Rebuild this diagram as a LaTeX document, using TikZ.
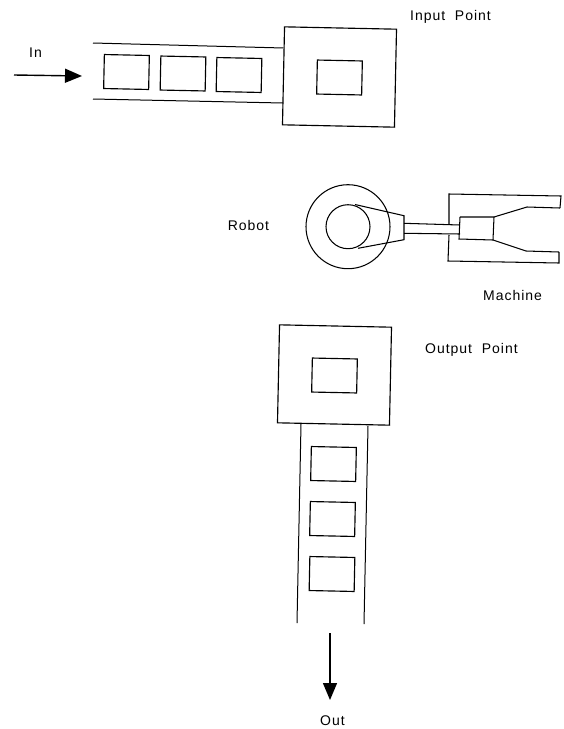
\documentclass[tikz,border=0pt]{standalone}
\usepackage{fontspec}
\setmainfont{Liberation Sans}
\newfontfamily\lblfont[LetterSpace=7]{Liberation Sans}
\usetikzlibrary{arrows.meta}
\tikzset{
  lbl/.style={inner sep=0pt, font=\lblfont\fontsize{14}{16}\selectfont},
  part/.style={draw=black, line width=1.15pt, fill=white, minimum width=45pt, minimum height=34pt, inner sep=0pt, rotate=-1.2},
  station/.style={draw=black, line width=1.15pt, minimum width=112pt, minimum height=98pt, inner sep=0pt, rotate=-1.2},
  belt/.style={line width=1pt},
  flow/.style={line width=1.4pt, -{Triangle[length=17pt, width=14pt]}},
  rob/.style={line width=1.05pt}
}
\begin{document}
\begin{tikzpicture}[x=1pt, y=-1pt]
  \useasboundingbox (0,0) rectangle (563,729);
  % input side
  \node[station] (inbox) at (339.5,77) {};
  \node[part] (inpart) at (339.5,77.5) {};
  \node[part] (ina) at (126.5,72) {};
  \node[part] (inb) at (183,73.5) {};
  \node[part] (inc) at (239,75) {};
  \coordinate (intopl) at (93,43);
  \coordinate (intopr) at (283.5,48);
  \coordinate (inbotl) at (93,99);
  \coordinate (inbotr) at (283,103);
  \draw[belt] (intopl) -- (intopr);
  \draw[belt] (inbotl) -- (inbotr);
  \coordinate (instart) at (14,75);
  \coordinate (inend) at (82,76);
  \draw[flow] (instart) -- (inend);
  \node[lbl] (inlbl) at (35.5,53) {In};
  \node[lbl, anchor=west] (inputlbl) at (410,17) {Input\ \ Point};
  % robot
  \node[draw=black, rob, circle, minimum size=84pt, inner sep=0pt] (robout) at (348,226.7) {};
  \node[draw=black, rob, circle, minimum size=44pt, inner sep=0pt] (robin) at (348,226.7) {};
  \coordinate (shafttl) at (404,223.3);
  \coordinate (shaftbl) at (404,233.3);
  \coordinate (shafttr) at (460,225);
  \coordinate (shaftbr) at (460,234);
  \draw[rob] (355,204.5) -- (404,215.7) -- (404,239.7) -- (358,248.3);
  \draw[rob] (shafttl) -- (shafttr);
  \draw[rob] (shaftbl) -- (shaftbr);
  % machine
  \draw[rob] (449,224) -- (449,194) -- (561,196) -- (560,208);
  \draw[rob] (449,235) -- (448,261) -- (559,263) -- (559,252);
  \draw[rob] (460,217) -- (494,217) -- (527,207) -- (560,208);
  \draw[rob] (460,217) -- (459,239) -- (493,240) -- (526,251) -- (559,252);
  \draw[rob] (494,217) -- (493,240);
  \node[lbl] (robotlbl) at (248.5,225) {Robot};
  \node[lbl, anchor=west] (machlbl) at (483,295) {Machine};
  % output side
  \node[station] (outbox) at (334.5,375) {};
  \node[part] (outpart) at (334.5,375.5) {};
  \node[part] (outa) at (333.5,464) {};
  \node[part] (outb) at (332.5,519) {};
  \node[part] (outc) at (332,574) {};
  \coordinate (outlt) at (301,424);
  \coordinate (outrt) at (368,426);
  \coordinate (outll) at (297,623);
  \coordinate (outrl) at (364,624);
  \draw[belt] (outlt) -- (outll);
  \draw[belt] (outrt) -- (outrl);
  \coordinate (outstart) at (330,633);
  \coordinate (outend) at (330,700);
  \draw[flow] (outstart) -- (outend);
  \node[lbl] (outlbl) at (332.5,720.5) {Out};
  \node[lbl, anchor=west] (outputlbl) at (425,350) {Output\ \ Point};
\end{tikzpicture}
\end{document}
